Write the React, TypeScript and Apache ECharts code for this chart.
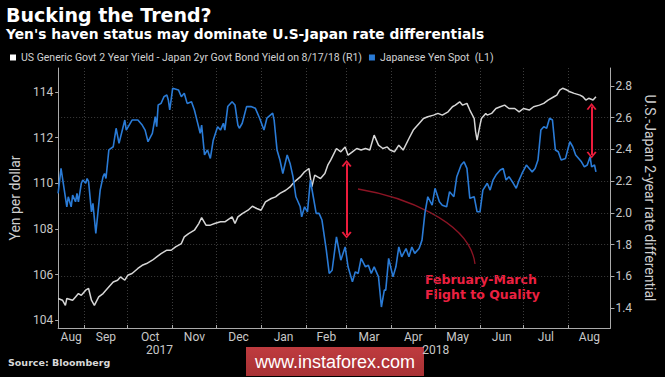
import React, { useEffect, useRef } from 'react';
import * as echarts from 'echarts';

// ---------------- data ----------------
const axisStart = '2017-08-14';
const axisEnd = '2018-08-30';
const monthNames = ['Jan', 'Feb', 'Mar', 'Apr', 'May', 'Jun', 'Jul', 'Aug', 'Sep', 'Oct', 'Nov', 'Dec'];
const yearNames = ['2017', '2018'];
const leftTicks = [104, 106, 108, 110, 112, 114];
const rightTicks = [1.4, 1.6, 1.8, 2.0, 2.2, 2.4, 2.6, 2.8];

const spreadName = 'US Generic Govt 2 Year Yield - Japan 2yr Govt Bond Yield on 8/17/18 (R1)';
const yenName = 'Japanese Yen Spot  (L1)';

// Japanese Yen Spot (left axis)
const yenSpot: [string, number][] = [
  ['2017-08-14', 109.56], ['2017-08-16', 110.65], ['2017-08-20', 108.97], ['2017-08-21', 109.41], ['2017-08-23', 108.97],
  ['2017-08-24', 109.48], ['2017-08-26', 109.19], ['2017-08-27', 109.56], ['2017-08-28', 109.19], ['2017-08-30', 110.0],
  ['2017-08-31', 110.14], ['2017-09-02', 110.0], ['2017-09-03', 110.21], ['2017-09-04', 110.07], ['2017-09-06', 108.75],
  ['2017-09-07', 109.12], ['2017-09-09', 107.8], ['2017-09-12', 109.7], ['2017-09-14', 110.29], ['2017-09-15', 110.43],
  ['2017-09-16', 110.21], ['2017-09-18', 111.46], ['2017-09-21', 111.6], ['2017-09-23', 112.41], ['2017-09-25', 111.75],
  ['2017-09-29', 112.77], ['2017-09-30', 112.33], ['2017-10-04', 112.77], ['2017-10-08', 112.77], ['2017-10-11', 112.55],
  ['2017-10-13', 112.33], ['2017-10-15', 111.82], ['2017-10-18', 112.19], ['2017-10-20', 112.92], ['2017-10-21', 112.48],
  ['2017-10-22', 113.43], ['2017-10-24', 113.5], ['2017-10-26', 113.79], ['2017-10-28', 113.87], ['2017-10-29', 113.65],
  ['2017-10-30', 113.21], ['2017-11-01', 114.16], ['2017-11-05', 114.09], ['2017-11-07', 113.79], ['2017-11-09', 113.94],
  ['2017-11-11', 113.5], ['2017-11-14', 113.57], ['2017-11-16', 113.21], ['2017-11-18', 112.7], ['2017-11-20', 112.19],
  ['2017-11-21', 112.55], ['2017-11-23', 111.24], ['2017-11-25', 111.46], ['2017-11-27', 111.09], ['2017-11-29', 111.89],
  ['2017-12-02', 112.48], ['2017-12-04', 112.33], ['2017-12-06', 112.63], ['2017-12-07', 112.33], ['2017-12-09', 113.36],
  ['2017-12-12', 113.57], ['2017-12-14', 113.43], ['2017-12-16', 112.55], ['2017-12-17', 112.41], ['2017-12-19', 112.63],
  ['2017-12-22', 113.36], ['2017-12-25', 113.36], ['2017-12-28', 113.29], ['2017-12-31', 112.85], ['2018-01-03', 112.33],
  ['2018-01-05', 112.85], ['2018-01-09', 113.07], ['2018-01-10', 112.77], ['2018-01-12', 111.46], ['2018-01-14', 111.02],
  ['2018-01-16', 110.43], ['2018-01-19', 111.24], ['2018-01-21', 110.87], ['2018-01-23', 110.29], ['2018-01-25', 109.41],
  ['2018-01-28', 108.97], ['2018-01-29', 108.53], ['2018-01-31', 108.97], ['2018-02-02', 108.75], ['2018-02-04', 110.14],
  ['2018-02-06', 109.41], ['2018-02-08', 108.68], ['2018-02-10', 108.68], ['2018-02-12', 108.39], ['2018-02-15', 107.07],
  ['2018-02-17', 106.05], ['2018-02-19', 106.19], ['2018-02-22', 107.65], ['2018-02-25', 106.63], ['2018-02-28', 107.21],
  ['2018-03-02', 106.34], ['2018-03-05', 105.68], ['2018-03-07', 106.12], ['2018-03-09', 106.05], ['2018-03-11', 106.71],
  ['2018-03-14', 106.34], ['2018-03-16', 106.41], ['2018-03-18', 106.05], ['2018-03-20', 106.34], ['2018-03-23', 105.9],
  ['2018-03-25', 104.58], ['2018-03-27', 105.32], ['2018-03-28', 105.32], ['2018-03-30', 106.71], ['2018-04-02', 105.9],
  ['2018-04-04', 106.34], ['2018-04-06', 107.21], ['2018-04-08', 106.78], ['2018-04-11', 107.14], ['2018-04-13', 106.78],
  ['2018-04-15', 107.21], ['2018-04-17', 106.93], ['2018-04-20', 107.14], ['2018-04-22', 107.51], ['2018-04-24', 108.68],
  ['2018-04-26', 109.41], ['2018-04-29', 109.04], ['2018-05-01', 109.78], ['2018-05-04', 109.19], ['2018-05-06', 109.04],
  ['2018-05-09', 108.97], ['2018-05-11', 109.63], ['2018-05-14', 109.41], ['2018-05-16', 110.29], ['2018-05-19', 110.8],
  ['2018-05-21', 110.94], ['2018-05-23', 110.65], ['2018-05-25', 109.34], ['2018-05-28', 109.41], ['2018-05-30', 108.75],
  ['2018-06-01', 108.75], ['2018-06-03', 109.7], ['2018-06-06', 110.0], ['2018-06-08', 109.7], ['2018-06-10', 110.14],
  ['2018-06-12', 110.36], ['2018-06-15', 110.58], ['2018-06-17', 110.65], ['2018-06-19', 110.14], ['2018-06-21', 110.29],
  ['2018-06-24', 110.0], ['2018-06-26', 109.78], ['2018-06-28', 110.14], ['2018-06-30', 110.43], ['2018-07-03', 110.8],
  ['2018-07-05', 110.65], ['2018-07-07', 110.5], ['2018-07-09', 110.65], ['2018-07-11', 111.02], ['2018-07-13', 112.33],
  ['2018-07-15', 112.48], ['2018-07-17', 112.41], ['2018-07-19', 112.85], ['2018-07-21', 112.77], ['2018-07-23', 111.46],
  ['2018-07-25', 111.38], ['2018-07-27', 111.02], ['2018-07-30', 111.09], ['2018-08-02', 111.82], ['2018-08-04', 111.6],
  ['2018-08-06', 111.24], ['2018-08-10', 110.94], ['2018-08-12', 110.72], ['2018-08-14', 110.8], ['2018-08-16', 111.16],
  ['2018-08-17', 110.72], ['2018-08-19', 110.8], ['2018-08-20', 110.5],
];

// US - Japan 2-year spread (right axis)
const rateSpread: [string, number][] = [
  ['2017-08-14', 1.46], ['2017-08-17', 1.449], ['2017-08-19', 1.417], ['2017-08-20', 1.46], ['2017-08-24', 1.449],
  ['2017-08-26', 1.47], ['2017-08-28', 1.491], ['2017-08-30', 1.48], ['2017-09-02', 1.512], ['2017-09-04', 1.523],
  ['2017-09-06', 1.449], ['2017-09-08', 1.417], ['2017-09-11', 1.47], ['2017-09-14', 1.491], ['2017-09-17', 1.523],
  ['2017-09-21', 1.564], ['2017-09-24', 1.575], ['2017-09-26', 1.596], ['2017-09-29', 1.575], ['2017-10-01', 1.606],
  ['2017-10-04', 1.617], ['2017-10-08', 1.649], ['2017-10-11', 1.669], ['2017-10-14', 1.68], ['2017-10-18', 1.701],
  ['2017-10-21', 1.722], ['2017-10-24', 1.743], ['2017-10-28', 1.764], ['2017-10-31', 1.764], ['2017-11-03', 1.785],
  ['2017-11-07', 1.806], ['2017-11-09', 1.848], ['2017-11-12', 1.869], ['2017-11-16', 1.89], ['2017-11-19', 1.932],
  ['2017-11-21', 1.97], ['2017-11-24', 1.922], ['2017-11-27', 1.922], ['2017-11-30', 1.932], ['2017-12-04', 1.943],
  ['2017-12-07', 1.943], ['2017-12-12', 1.974], ['2017-12-14', 1.932], ['2017-12-16', 1.974], ['2017-12-19', 1.995],
  ['2017-12-23', 2.016], ['2017-12-26', 2.041], ['2017-12-29', 2.027], ['2018-01-01', 2.016], ['2018-01-04', 2.069],
  ['2018-01-08', 2.09], ['2018-01-11', 2.1], ['2018-01-14', 2.122], ['2018-01-18', 2.142], ['2018-01-21', 2.163],
  ['2018-01-24', 2.195], ['2018-01-28', 2.226], ['2018-01-31', 2.258], ['2018-02-03', 2.279], ['2018-02-05', 2.163],
  ['2018-02-07', 2.237], ['2018-02-09', 2.226], ['2018-02-11', 2.216], ['2018-02-14', 2.248], ['2018-02-16', 2.3],
  ['2018-02-18', 2.332], ['2018-02-22', 2.405], ['2018-02-25', 2.384], ['2018-02-28', 2.415], ['2018-03-02', 2.363],
  ['2018-03-05', 2.384], ['2018-03-08', 2.405], ['2018-03-11', 2.395], ['2018-03-14', 2.405], ['2018-03-17', 2.395],
  ['2018-03-20', 2.489], ['2018-03-23', 2.426], ['2018-03-26', 2.405], ['2018-03-29', 2.415], ['2018-03-31', 2.395],
  ['2018-04-03', 2.384], ['2018-04-06', 2.426], ['2018-04-09', 2.395], ['2018-04-13', 2.468], ['2018-04-16', 2.521],
  ['2018-04-20', 2.563], ['2018-04-23', 2.594], ['2018-04-26', 2.605], ['2018-04-30', 2.615], ['2018-05-03', 2.626],
  ['2018-05-06', 2.615], ['2018-05-10', 2.636], ['2018-05-13', 2.668], ['2018-05-15', 2.678], ['2018-05-18', 2.699],
  ['2018-05-20', 2.678], ['2018-05-23', 2.689], ['2018-05-25', 2.647], ['2018-05-28', 2.594], ['2018-05-29', 2.51],
  ['2018-05-30', 2.458], ['2018-06-01', 2.552], ['2018-06-02', 2.594], ['2018-06-05', 2.626], ['2018-06-06', 2.615],
  ['2018-06-09', 2.626], ['2018-06-12', 2.657], ['2018-06-15', 2.668], ['2018-06-18', 2.678], ['2018-06-21', 2.657],
  ['2018-06-25', 2.657], ['2018-06-28', 2.636], ['2018-07-01', 2.657], ['2018-07-05', 2.647], ['2018-07-08', 2.668],
  ['2018-07-12', 2.678], ['2018-07-15', 2.689], ['2018-07-18', 2.71], ['2018-07-22', 2.731], ['2018-07-24', 2.741],
  ['2018-07-26', 2.773], ['2018-07-28', 2.784], ['2018-07-31', 2.773], ['2018-08-02', 2.762], ['2018-08-05', 2.752],
  ['2018-08-09', 2.741], ['2018-08-11', 2.731], ['2018-08-13', 2.71], ['2018-08-15', 2.721], ['2018-08-18', 2.71],
  ['2018-08-20', 2.731],
];

// double-headed arrows (yen axis values)
const arrowMarks: { date: string; low: number; high: number }[] = [
  { date: '2018-03-01', low: 107.73, high: 110.87 },
  { date: '2018-08-17', low: 111.24, high: 113.36 },
];

// ---------------- helpers ----------------
const FONT = 'Roboto, "Noto Sans", sans-serif';
const WIDE = '"DejaVu Sans", Roboto, sans-serif';
const toTs = (s: string) => Date.parse(s + 'T00:00:00Z');
const xMin = toTs(axisStart);
const xMax = toTs(axisEnd);

function buildMonthTicks() {
  const starts: number[] = [];
  const mids: number[] = [];
  const s = new Date(xMin);
  let y = s.getUTCFullYear();
  let m = s.getUTCMonth();
  while (Date.UTC(y, m, 1) < xMax) {
    const a = Math.max(Date.UTC(y, m, 1), xMin);
    const b = Math.min(Date.UTC(y, m + 1, 1), xMax);
    if (Date.UTC(y, m, 1) > xMin) starts.push(Date.UTC(y, m, 1));
    mids.push((a + b) / 2);
    m += 1;
    if (m > 11) { m = 0; y += 1; }
  }
  return { starts, mids };
}

export default function App() {
  const ref = useRef<HTMLDivElement>(null);

  useEffect(() => {
    document.body.style.margin = '0';
    document.body.style.background = '#000';
    if (!ref.current) return;
    const chart = echarts.init(ref.current, undefined, { renderer: 'svg' });

    const { starts, mids } = buildMonthTicks();
    const newYear = Date.UTC(2018, 0, 1);
    const yearMids = [(xMin + newYear) / 2, (newYear + xMax) / 2];
    const yearMap = new Map<number, string>();
    yearMids.forEach((v, i) => yearMap.set(v, yearNames[i]));
    const labelValues = [...mids, ...yearMids];

    const chevron = 'path://M0,9 L5,0 L10,9 L8.4,10.2 L5,3.6 L1.6,10.2 Z';

    const option: any = {
      animation: false,
      backgroundColor: '#000',
      textStyle: { fontFamily: FONT },
      grid: { left: 49, right: 50, top: 68, bottom: 49 },
      legend: {
        left: 10,
        top: 52,
        padding: 0,
        itemWidth: 6,
        itemHeight: 6,
        itemGap: 7,
        icon: 'rect',
        selectedMode: false,
        textStyle: { color: '#d2d2d2', fontSize: 10.5, fontFamily: FONT },
        data: [spreadName, yenName],
      },
      xAxis: {
        type: 'value',
        min: xMin,
        max: xMax,
        axisLine: { show: true, lineStyle: { color: '#aaaaaa', width: 1 } },
        axisTick: { show: true, inside: true, length: 3, customValues: starts, lineStyle: { color: '#aaaaaa' } },
        axisLabel: {
          customValues: labelValues,
          color: '#c8c8c8',
          fontSize: 12,
          fontFamily: FONT,
          margin: 2,
          lineHeight: 13,
          formatter: (v: number) => {
            if (yearMap.has(v)) return '\n' + yearMap.get(v);
            return monthNames[new Date(v).getUTCMonth()];
          },
        },
        splitLine: { show: true, lineStyle: { color: '#3c3c3c', type: [1, 2], width: 1 } },
      },
      yAxis: [
        {
          type: 'value',
          position: 'left',
          min: 103.66,
          max: 115.05,
          splitNumber: 5,
          name: 'Yen per dollar',
          nameLocation: 'middle',
          nameGap: 28,
          nameTextStyle: { color: '#cfcfcf', fontSize: 14, fontFamily: FONT },
          axisLine: { show: true, lineStyle: { color: '#aaaaaa' } },
          axisTick: { show: true, length: 3, customValues: leftTicks, lineStyle: { color: '#aaaaaa' } },
          axisLabel: { customValues: leftTicks, color: '#c8c8c8', fontSize: 12, fontFamily: FONT, margin: 5 },
          splitLine: { show: false },
        },
        {
          type: 'value',
          position: 'right',
          min: 1.274,
          max: 2.912,
          splitNumber: 8,
          name: 'U.S.-Japan 2-year rate differential',
          nameLocation: 'middle',
          nameRotate: -90,
          nameGap: 25,
          nameTextStyle: { color: '#cfcfcf', fontSize: 14, fontFamily: FONT },
          axisLine: { show: true, lineStyle: { color: '#aaaaaa' } },
          axisTick: { show: true, length: 4, customValues: rightTicks, lineStyle: { color: '#aaaaaa' } },
          axisLabel: {
            customValues: rightTicks,
            color: '#c8c8c8',
            fontSize: 12,
            fontFamily: FONT,
            margin: 5,
            formatter: (v: number) => v.toFixed(1),
          },
          splitLine: { show: true, showMinLine: false, showMaxLine: false, lineStyle: { color: '#3c3c3c', type: [1, 2], width: 1 } },
        },
      ],
      series: [
        {
          name: spreadName,
          type: 'line',
          yAxisIndex: 1,
          showSymbol: false,
          symbol: 'none',
          silent: true,
          itemStyle: { color: '#ffffff' },
          lineStyle: { color: '#d6d6d6', width: 1.5 },
          data: rateSpread.map(([d, v]) => [toTs(d), v]),
          z: 2,
        },
        {
          name: yenName,
          type: 'line',
          yAxisIndex: 0,
          showSymbol: false,
          symbol: 'none',
          silent: true,
          itemStyle: { color: '#2a7bd6' },
          lineStyle: { color: '#2a7bd6', width: 1.6 },
          data: yenSpot.map(([d, v]) => [toTs(d), v]),
          z: 3,
          markLine: {
            silent: true,
            symbol: [chevron, chevron],
            symbolSize: [10, 7],
            label: { show: false },
            lineStyle: { color: '#ec1c3c', width: 2, type: 'solid' },
            emphasis: { disabled: true },
            data: arrowMarks.map((a) => [
              { coord: [toTs(a.date), a.low] },
              { coord: [toTs(a.date), a.high] },
            ]),
          },
        },
      ],
      graphic: [
        {
          type: 'text',
          left: 6,
          top: 5,
          style: { text: 'Bucking the Trend?', fill: '#ffffff', font: `bold 19px ${WIDE}` },
        },
        {
          type: 'text',
          left: 6,
          top: 27,
          style: { text: "Yen's haven status may dominate U.S-Japan rate differentials", fill: '#ffffff', font: `bold 13.8px ${WIDE}` },
        },
        {
          type: 'bezierCurve',
          silent: true,
          shape: { x1: 358, y1: 189, cpx1: 400, cpy1: 196, cpx2: 470, cpy2: 220, x2: 475, y2: 264 },
          style: { stroke: '#8c1424', lineWidth: 1.3, fill: null },
        },
        {
          type: 'text',
          x: 425,
          y: 272,
          style: {
            text: 'February-March\nFlight to Quality',
            fill: '#ec2040',
            font: `bold 12.5px ${WIDE}`,
            lineHeight: 15,
          },
        },
        {
          type: 'text',
          left: 8,
          top: 357,
          style: { text: 'Source: Bloomberg', fill: '#d8d8d8', font: `bold 9.5px ${WIDE}` },
        },
        {
          type: 'rect',
          shape: { x: 246, y: 347, width: 178, height: 29 },
          style: {
            fill: new echarts.graphic.LinearGradient(0, 0, 0, 1, [
              { offset: 0, color: '#bf3b3f' },
              { offset: 1, color: '#a83134' },
            ]),
          },
        },
        {
          type: 'text',
          x: 335,
          y: 361.5,
          style: {
            text: 'www.instaforex.com',
            fill: '#ffffff',
            font: `18px "Liberation Sans", ${FONT}`,
            align: 'center',
            verticalAlign: 'middle',
          },
        },
      ],
    };

    chart.setOption(option);
    return () => chart.dispose();
  }, []);

  return (
    <div
      ref={ref}
      style={{ position: 'absolute', left: 0, top: 0, width: 665, height: 377, background: '#000' }}
    />
  );
}
